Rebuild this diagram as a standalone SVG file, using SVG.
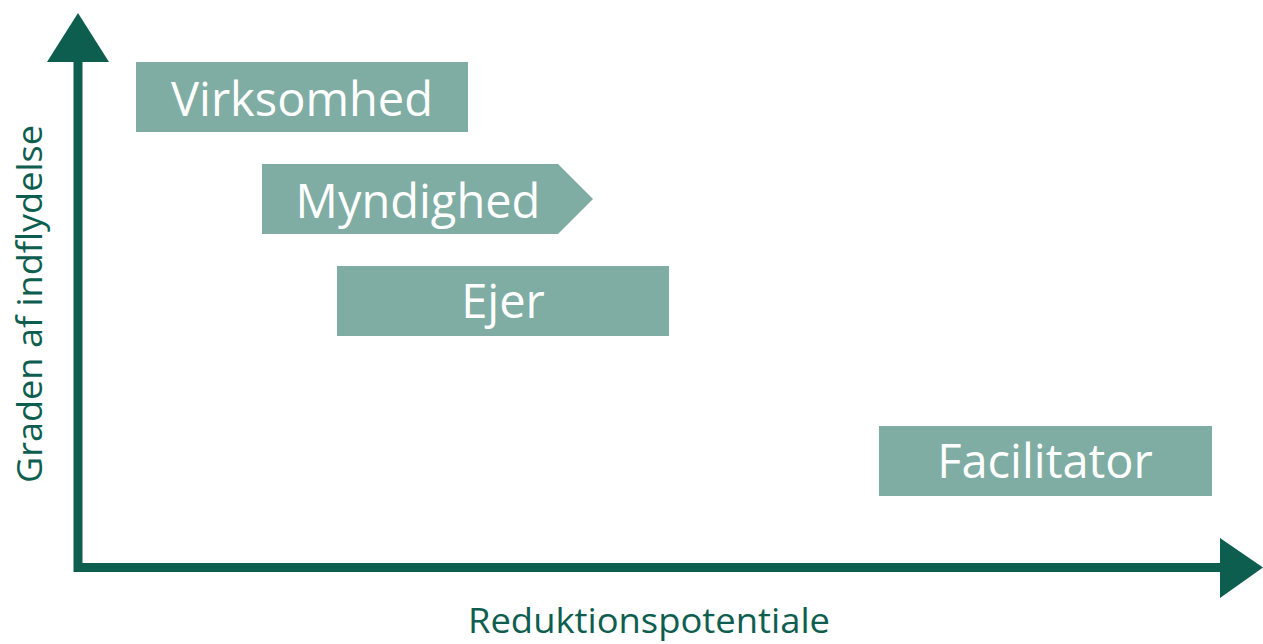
<svg xmlns="http://www.w3.org/2000/svg" width="1263" height="644" viewBox="0 0 1263 644">
<style>
.box{fill:#7fada4}
.bl{font-family:"Open Sans","DejaVu Sans",sans-serif;font-size:47px;fill:#ffffff;text-anchor:middle}
.ax{font-family:"Open Sans","DejaVu Sans",sans-serif;font-size:35px;fill:#0e5e50;text-anchor:middle}
.axis{stroke:#0e5e50;stroke-width:9;fill:none}
.head{fill:#0e5e50}
</style>
<rect width="1263" height="644" fill="#ffffff"/>
<g id="axes">
<path class="axis" d="M78,58 V567.5 H1224"/>
<polygon class="head" points="47,62 78,13 109,62"/>
<polygon class="head" points="1220,538 1263,567.5 1220,598"/>
</g>
<g id="virksomhed"><rect class="box" x="136" y="62" width="332" height="70"/><text class="bl" x="302" y="116">Virksomhed</text></g>
<g id="myndighed"><polygon class="box" points="262,164 558,164 593,199 558,234 262,234"/><text class="bl" x="418" y="218">Myndighed</text></g>
<g id="ejer"><rect class="box" x="337" y="266" width="332" height="70"/><text class="bl" x="503" y="318">Ejer</text></g>
<g id="facilitator"><rect class="box" x="879" y="426" width="333" height="70"/><text class="bl" x="1045" y="478">Facilitator</text></g>
<text class="ax" x="649" y="633" textLength="362" lengthAdjust="spacingAndGlyphs">Reduktionspotentiale</text>
<text class="ax" transform="translate(42,304) rotate(-90)" x="0" y="0" textLength="358" lengthAdjust="spacingAndGlyphs">Graden af indflydelse</text>
</svg>
